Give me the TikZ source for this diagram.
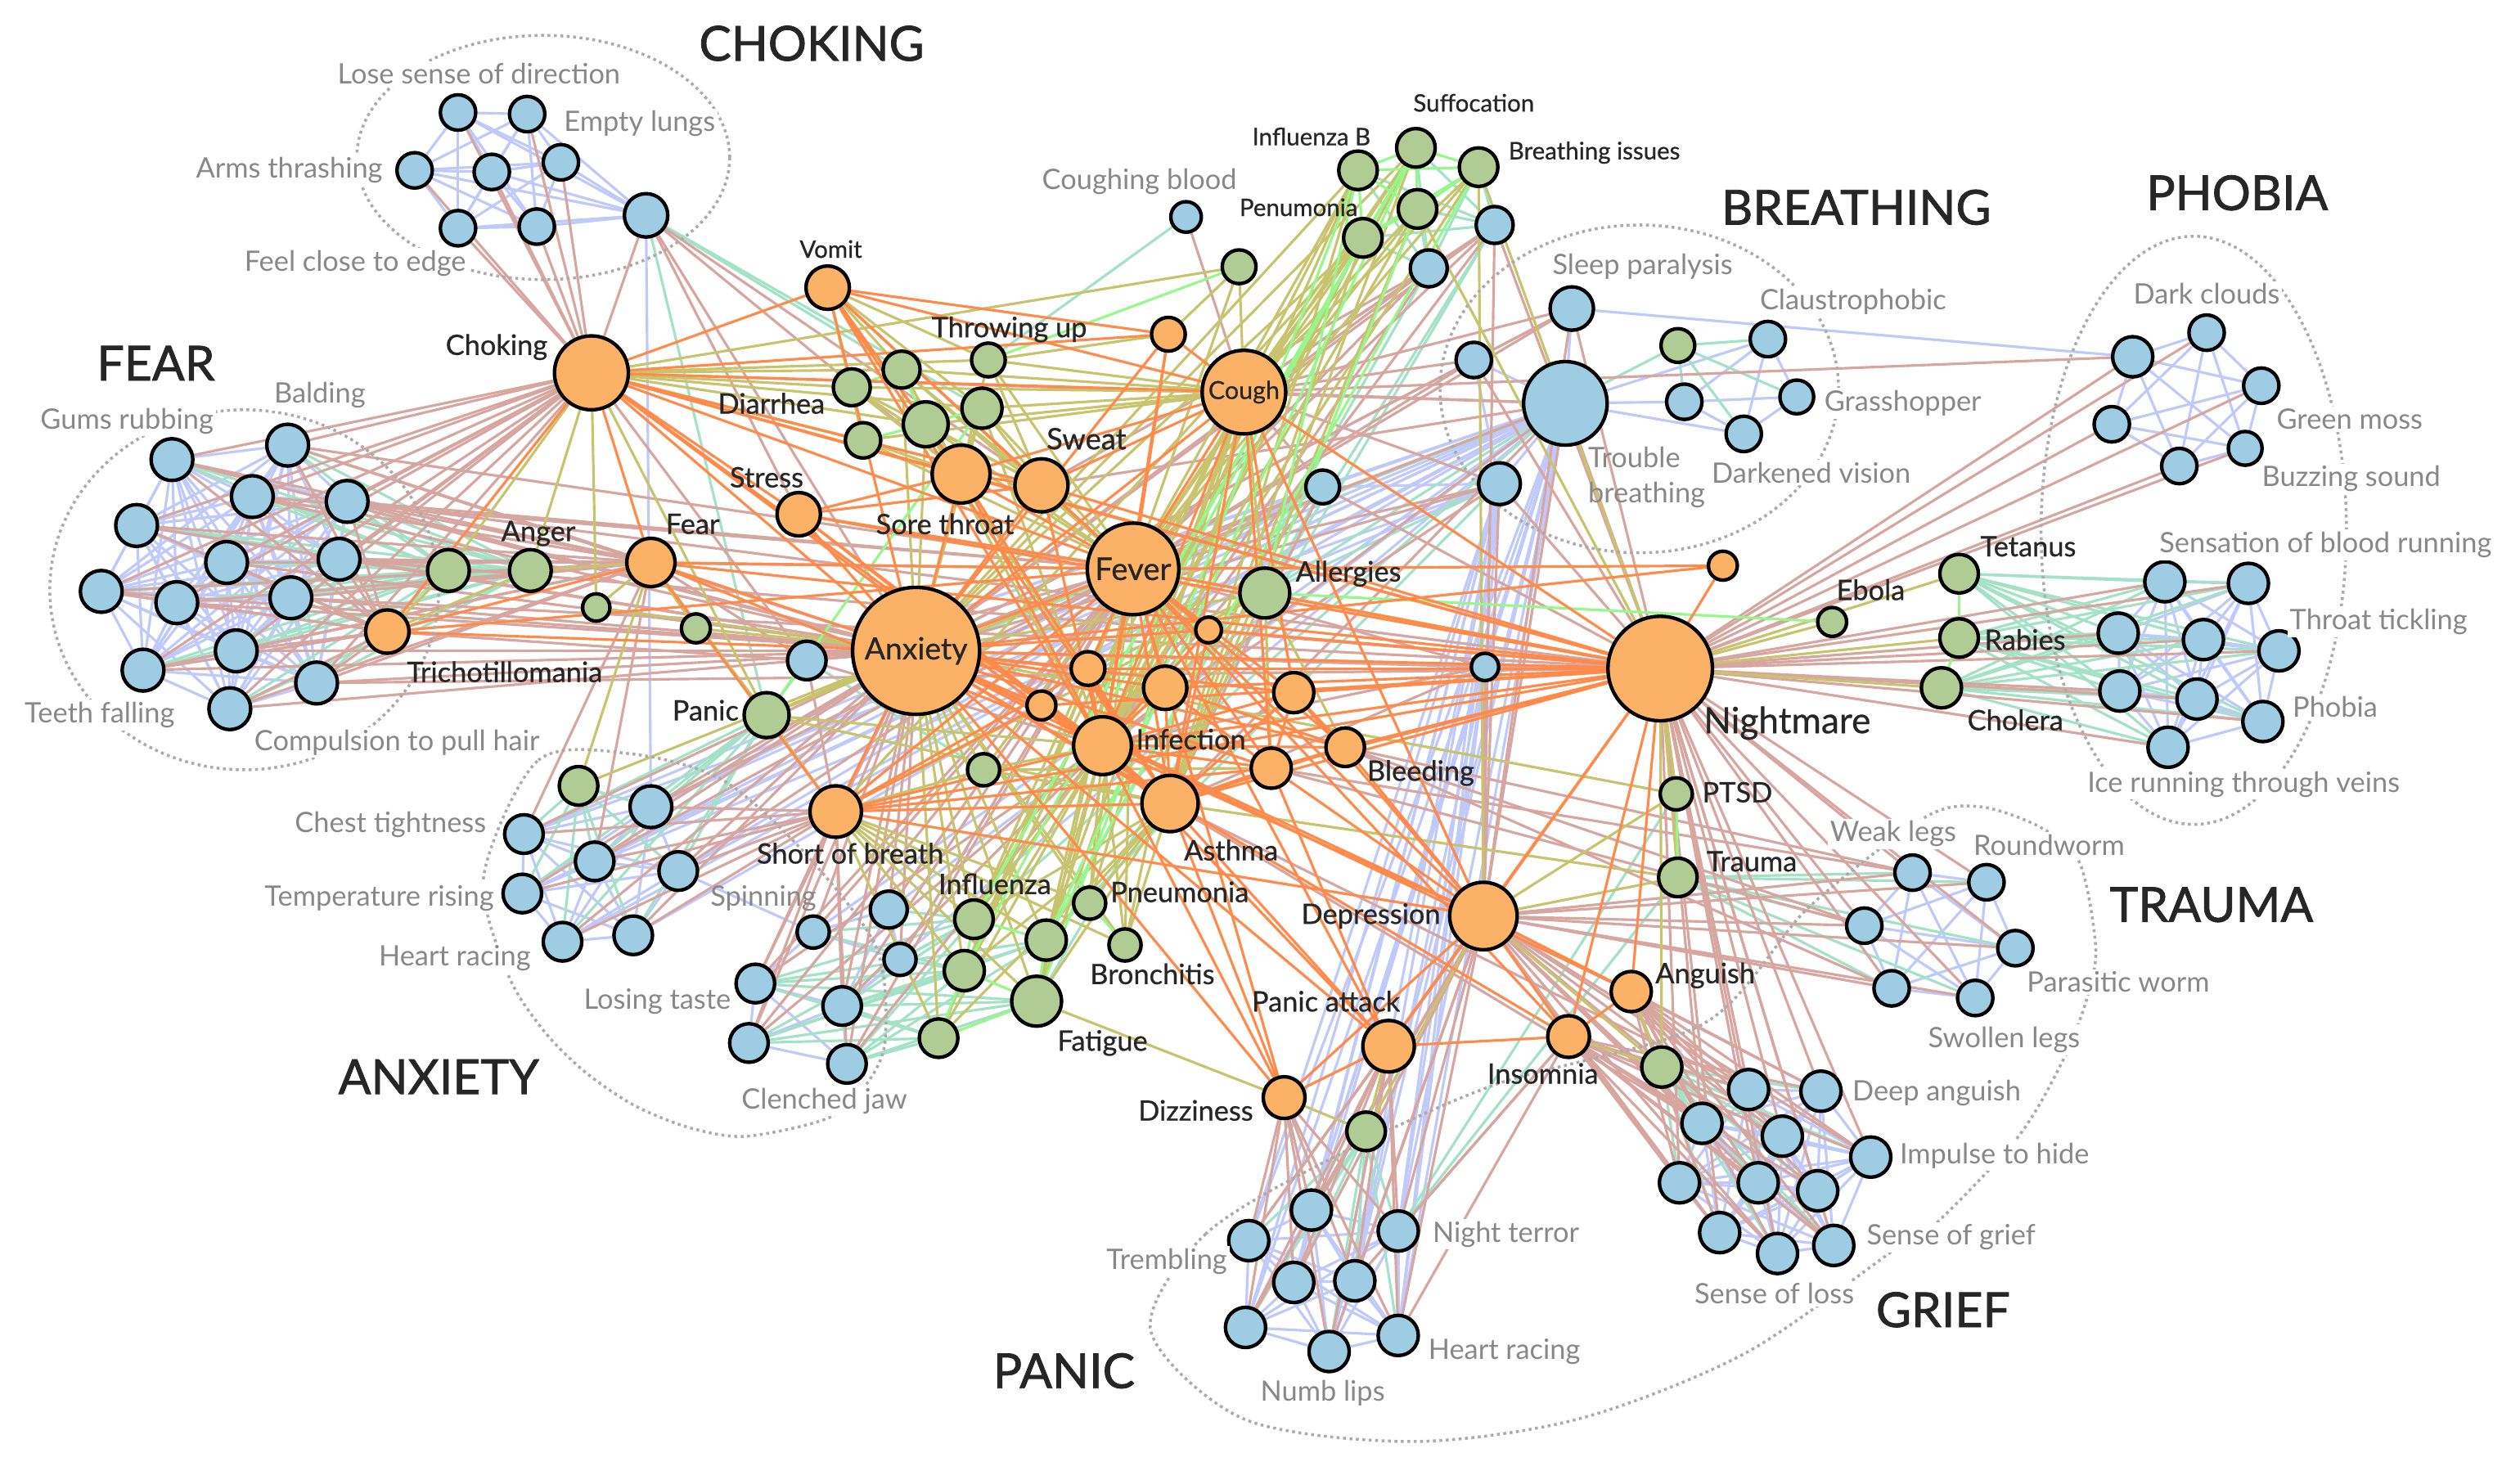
\documentclass[tikz,border=0pt]{standalone}
\usepackage{fontspec}
\setmainfont{Lato}
\newfontfamily\dkfont[FakeBold=0.6]{Lato}
\newfontfamily\ttfont[FakeBold=1.3]{Lato}
\definecolor{nB}{HTML}{9ECCE2}
\definecolor{nO}{HTML}{FBB166}
\definecolor{nG}{HTML}{B1CB95}
\definecolor{cLav}{HTML}{BFC9FA}
\definecolor{cPink}{HTML}{D7A6A1}
\definecolor{cMint}{HTML}{A3E2C7}
\definecolor{cOr}{HTML}{FF8A4A}
\definecolor{cOl}{HTML}{C8C46E}
\definecolor{cGr}{HTML}{96F78B}
\definecolor{cGray}{HTML}{888888}
\definecolor{cDark}{HTML}{262626}
\definecolor{cDot}{HTML}{ABABAB}
\pgfdeclarelayer{bgl}\pgfdeclarelayer{edl}\pgfdeclarelayer{oul}
\pgfsetlayers{bgl,edl,oul,main}
\newcommand\nd[5]{\node[#1,minimum size=#5pt] (#2) at (#3,#4) {};}
\newcommand\clq[3]{\foreach \ci in {1,...,#2}{\foreach \cj in {1,...,#2}{\ifnum\ci<\cj\relax\draw[#3] (#1\ci)--(#1\cj);\fi}}}
\newcommand\fanp[4]{\foreach \fk in {#3}{\draw[#4] (#1)--(#2\fk);}}
\newcommand\fanto[3]{\foreach \fx in {#2}{\draw[#3] (#1)--(\fx);}}
\newcommand\pairs[2]{\foreach \pa/\pb in {#2}{\draw[#1] (\pa)--(\pb);}}
\begin{document}
\begin{tikzpicture}[x=1pt,y=-1pt,
 nbase/.style={circle,draw=black,line width=2.2pt,inner sep=0pt},
 nblue/.style={nbase,fill=nB}, norng/.style={nbase,fill=nO}, ngrn/.style={nbase,fill=nG},
 elav/.style={draw=cLav,line width=1.6pt},
 epink/.style={draw=cPink,line width=1.6pt},
 emint/.style={draw=cMint,line width=1.6pt},
 eorng/.style={draw=cOr,line width=1.6pt},
 eolive/.style={draw=cOl,line width=1.6pt},
 egrn/.style={draw=cGr,line width=1.6pt},
 dotline/.style={draw=cDot,line width=1.8pt,dash pattern=on 1.8pt off 2.2pt},
 glab/.style={text=cGray,font=\fontsize{17.5}{21}\selectfont,fill=white,inner sep=1.5pt},
 glabn/.style={text=cGray,font=\fontsize{17.5}{22}\selectfont,inner sep=0pt},
 blab/.style={text=cDark,font={\dkfont\fontsize{17.5}{21}\selectfont},inner sep=0pt},
 slab/.style={text=cDark,font={\dkfont\fontsize{15}{18}\selectfont},inner sep=0pt},
 ttl/.style={text=cDark,font={\ttfont\fontsize{30}{34}\selectfont},inner sep=0pt}]
\begin{pgfonlayer}{bgl}
\fill[white] (0,0) rectangle (1568,915);
\end{pgfonlayer}
\useasboundingbox (0,0) rectangle (1568,915);
% ---------- orange nodes
\nd{norng}{oCh}{368}{232}{46}
\nd{norng}{oFear}{405}{350}{30}
\nd{norng}{oTri}{241}{393}{27}
\nd{norng}{oVom}{515}{179}{27}
\nd{norng}{oStr}{497}{320}{27}
\nd{norng}{oSore}{598}{295}{36}
\nd{norng}{oSw}{648}{302}{33}
\node[norng,minimum size=52pt,text=cDark,font={\dkfont\fontsize{15.5}{18}\selectfont}] (oCgh) at (774,244) {Cough};
\nd{norng}{oO1}{727}{208}{21}
\node[norng,minimum size=79pt,text=cDark,font={\dkfont\fontsize{19}{22}\selectfont}] (oAnx) at (570,405) {Anxiety};
\node[norng,minimum size=57pt,text=cDark,font={\dkfont\fontsize{19.5}{22}\selectfont}] (oFev) at (705,354) {Fever};
\nd{norng}{oO2}{752}{392}{16}
\nd{norng}{oO3}{677}{416}{21}
\nd{norng}{oO4}{648}{439}{18}
\nd{norng}{oO5}{725}{428}{27}
\nd{norng}{oInf}{686}{464}{36}
\nd{norng}{oSob}{520}{505}{32}
\nd{norng}{oAst}{728}{500}{35}
\nd{norng}{oO6}{791}{478}{25}
\nd{norng}{oBle}{837}{465}{24}
\nd{norng}{oO7}{805}{431}{25}
\nd{norng}{oO8}{1072}{352}{18}
\nd{norng}{oNm}{1033}{416}{65}
\nd{norng}{oDep}{923}{570}{42}
\nd{norng}{oAng}{1015}{617}{25}
\nd{norng}{oIns}{976}{645}{26}
\nd{norng}{oPa}{864}{651}{32}
\nd{norng}{oDiz}{799}{683}{26}
% ---------- green nodes
\nd{ngrn}{gA1}{279}{355}{26}
\nd{ngrn}{gAng}{330}{355}{26}
\nd{ngrn}{gS1}{371}{378}{17}
\nd{ngrn}{gS2}{433}{391}{18}
\nd{ngrn}{gPan}{477}{445}{28}
\nd{ngrn}{gT1}{612}{479}{20}
\nd{ngrn}{gThr}{615}{224}{21}
\nd{ngrn}{gD}{530}{241}{23}
\nd{ngrn}{gV1}{561}{230}{23}
\nd{ngrn}{gV2}{576}{264}{28}
\nd{ngrn}{gV3}{611}{254}{25}
\nd{ngrn}{gV4}{537}{274}{22}
\nd{ngrn}{gC1}{771}{166}{21}
\nd{ngrn}{gIB}{845}{106}{24}
\nd{ngrn}{gSuf}{881}{92}{24}
\nd{ngrn}{gBI}{920}{104}{24}
\nd{ngrn}{gB2}{882}{130}{24}
\nd{ngrn}{gPen}{848}{148}{24}
\nd{ngrn}{gAl}{787}{369}{31}
\nd{ngrn}{gBr1}{1044}{215}{21}
\nd{ngrn}{gTet}{1219}{357}{24}
\nd{ngrn}{gRab}{1219}{397}{24}
\nd{ngrn}{gCho}{1208}{428}{25}
\nd{ngrn}{gEb}{1140}{387}{18}
\nd{ngrn}{gPT}{1043}{494}{20}
\nd{ngrn}{gTr}{1044}{546}{24}
\nd{ngrn}{gG1}{1034}{664}{25}
\nd{ngrn}{gP1}{850}{704}{24}
\nd{ngrn}{gAx1}{360}{489}{24}
\nd{ngrn}{gInf}{606}{572}{24}
\nd{ngrn}{gPn}{678}{562}{20}
\nd{ngrn}{gBro}{700}{588}{20}
\nd{ngrn}{gX1}{651}{585}{25}
\nd{ngrn}{gX2}{600}{604}{25}
\nd{ngrn}{gFat}{645}{623}{31}
\nd{ngrn}{gX3}{584}{646}{24}
% ---------- blue nodes
\nd{nblue}{bC1}{285}{70}{22}
\nd{nblue}{bC2}{328}{71}{22}
\nd{nblue}{bC3}{258}{106}{22}
\nd{nblue}{bC4}{306}{107}{22}
\nd{nblue}{bC5}{349}{101}{22}
\nd{nblue}{bC6}{285}{142}{22}
\nd{nblue}{bC7}{334}{141}{22}
\nd{nblue}{bC8}{402}{134}{27}
\foreach \nn/\xx/\yy in {1/107/286,2/179/277,3/85/327,4/157/309,5/216/312,6/141/350,7/211/348,8/63/368,9/110/375,10/181/372,11/147/405,12/89/417,13/197/425,14/143/441}{\nd{nblue}{bF\nn}{\xx}{\yy}{26}}
\nd{nblue}{bA1}{405}{502}{26}
\foreach \nn/\xx/\yy in {2/326/519,3/370/536,4/422/542,5/325/556,6/394/582,7/350/586}{\nd{nblue}{bA\nn}{\xx}{\yy}{24}}
\nd{nblue}{bL1}{470}{612}{24}
\nd{nblue}{bL2}{524}{626}{24}
\nd{nblue}{bL3}{466}{649}{24}
\nd{nblue}{bL4}{527}{662}{24}
\nd{nblue}{bS1}{506}{580}{20}
\nd{nblue}{bS2}{553}{566}{23}
\nd{nblue}{bS3}{560}{597}{20}
\nd{nblue}{bM1}{502}{411}{24}
\nd{nblue}{bCB}{738}{135}{19}
\nd{nblue}{bB1}{930}{140}{23}
\nd{nblue}{bB2}{889}{167}{23}
\nd{nblue}{bSP}{978}{192}{27}
\nd{nblue}{bB3}{917}{224}{22}
\nd{nblue}{bTB}{974}{251}{52}
\nd{nblue}{bCl}{1100}{211}{22}
\nd{nblue}{bB4}{1048}{250}{22}
\nd{nblue}{bGr}{1118}{247}{21}
\nd{nblue}{bDV}{1085}{270}{22}
\nd{nblue}{bB5}{823}{303}{21}
\nd{nblue}{bB6}{933}{301}{26}
\nd{nblue}{bB7}{924}{415}{17}
\nd{nblue}{bP1}{1327}{222}{25}
\nd{nblue}{bP2}{1373}{207}{22}
\nd{nblue}{bP3}{1407}{240}{22}
\nd{nblue}{bP4}{1314}{264}{22}
\nd{nblue}{bP5}{1397}{279}{21}
\nd{nblue}{bP6}{1356}{290}{22}
\foreach \nn/\xx/\yy in {1/1347/362,2/1399/363,3/1318/394,4/1371/398,5/1418/405,6/1319/430,7/1367/435,8/1408/449,9/1349/465}{\nd{nblue}{bR\nn}{\xx}{\yy}{25}}
\foreach \nn/\xx/\yy in {1/1190/543,2/1236/549,3/1160/576,4/1254/590,5/1177/615,6/1229/621}{\nd{nblue}{bT\nn}{\xx}{\yy}{22}}
\foreach \nn/\xx/\yy in {1/1088/678,2/1133/679,3/1059/699,4/1109/707,5/1164/720,6/1045/736,7/1094/736,8/1131/741,9/1070/767,10/1106/780,11/1141/775}{\nd{nblue}{bG\nn}{\xx}{\yy}{25}}
\foreach \nn/\xx/\yy in {1/816/753,2/777/772,3/870/766,4/805/798,5/843/797,6/775/826,7/827/841,8/870/831}{\nd{nblue}{bN\nn}{\xx}{\yy}{25}}
% ---------- edges
\begin{pgfonlayer}{edl}
% lavender
\clq{bC}{8}{elav}\clq{bF}{14}{elav}\clq{bA}{7}{elav}\clq{bP}{6}{elav}
\clq{bR}{9}{elav}\clq{bT}{6}{elav}\clq{bG}{11}{elav}\clq{bN}{8}{elav}
\pairs{elav}{bL1/bL2,bL1/bL3,bL1/bL4,bL2/bL3,bL2/bL4,bL3/bL4,bS1/bS2,bS1/bS3,bS2/bS3,bS2/bL2,bS3/bL2,bS1/bL1,bA4/bS1,bC8/bA1,bP1/bSP,bTB/bSP,bTB/bCl,bTB/bB4,bTB/bDV,bCl/bB4,bCl/bGr,bCl/bDV,bB4/bGr,bB4/bDV,bGr/bDV,bB3/bSP,bB3/bB6,bTB/bB6,bTB/bB5,bB5/bB6,bB1/bB2,bTB/bB7,bB6/bB7,bTB/bM1,bB5/bM1,bTB/bB3}
\fanp{bTB}{bN}{1,...,8}{elav}
\fanp{bB6}{bN}{1,...,8}{elav}
\fanp{bB7}{bN}{1,3,5,8}{elav}
\fanp{bTB}{bA}{1,...,7}{elav}
\fanp{bB5}{bA}{1,3,4}{elav}
\fanp{bB6}{bA}{2,5}{elav}
\fanp{bTB}{bS}{1,2}{elav}
\fanp{bTB}{bL}{2}{elav}
% mint
\fanp{gA1}{bF}{1,...,14}{emint}
\fanp{gAng}{bF}{1,...,14}{emint}
\fanto{bC8}{gV1,gV3,gPan}{emint}
\fanp{gAx1}{bA}{1,...,7}{emint}
\fanp{gPan}{bA}{1,...,7}{emint}
\fanp{gInf}{bL}{1,...,4}{emint}
\fanp{gX1}{bL}{1,...,4}{emint}
\fanp{gX2}{bL}{1,...,4}{emint}
\fanp{gX3}{bL}{1,...,4}{emint}
\fanp{gFat}{bL}{1,...,4}{emint}
\fanp{gInf}{bS}{1,2,3}{emint}
\fanp{gX2}{bS}{1,3}{emint}
\fanto{bM1}{gPan,gT1}{emint}
\fanto{bB1}{gIB,gSuf,gBI,gB2,gPen,gAl,gFat}{emint}
\fanto{bB2}{gIB,gSuf,gBI,gB2,gPen,gX1}{emint}
\fanto{bCB}{gThr}{emint}
\fanto{bTB}{gBr1,gAl,gPan,gInf}{emint}
\fanto{gBr1}{bCl,bB4,bGr,bDV}{emint}
\fanp{gTet}{bR}{1,...,9}{emint}
\fanp{gRab}{bR}{1,...,9}{emint}
\fanp{gCho}{bR}{1,...,9}{emint}
\fanp{gTr}{bT}{1,...,6}{emint}
\fanp{gG1}{bG}{1,...,11}{emint}
\fanp{gP1}{bN}{1,...,8}{emint}
\fanto{bN3}{gTr,gPT}{emint}
\fanto{bB6}{gAl,gX1}{emint}
\fanto{bB5}{gAl}{emint}
% pink
\fanp{oCh}{bC}{1,...,8}{epink}
\fanto{bC8}{oStr,oSore,oSw,oAnx}{epink}
\fanp{oCh}{bF}{1,...,14}{epink}
\fanp{oFear}{bF}{1,...,14}{epink}
\fanp{oTri}{bF}{1,...,14}{epink}
\fanp{oAnx}{bF}{1,...,14}{epink}
\fanp{oNm}{bF}{5,7,10,13}{epink}
\fanp{oFev}{bF}{2,4,5,7}{epink}
\fanp{oAnx}{bA}{1,...,7}{epink}
\fanp{oSob}{bA}{1,...,7}{epink}
\fanp{oFev}{bA}{1,3,4}{epink}
\fanp{oFear}{bA}{2,3}{epink}
\fanp{oAnx}{bL}{1,...,4}{epink}
\fanp{oSob}{bL}{1,...,4}{epink}
\fanp{oFev}{bL}{1,...,4}{epink}
\fanp{oInf}{bL}{1,...,4}{epink}
\fanp{oAnx}{bS}{1,2,3}{epink}
\fanp{oFev}{bS}{1,2,3}{epink}
\fanto{bM1}{oAnx,oFear,oCh,oTri,oFev,oSob,oInf}{epink}
\fanto{bCB}{oCgh}{epink}
\fanto{bB1}{oCgh,oFev,oAnx,oNm,oDep,oInf}{epink}
\fanto{bB2}{oCgh,oFev,oAnx,oSw,oInf}{epink}
\fanto{bSP}{oNm,oAnx,oFev,oCgh,oDep}{epink}
\fanto{bTB}{oCgh,oFev,oAnx,oNm,oDep,oSw,oCh,oInf,oAst}{epink}
\fanto{bB3}{oAnx,oFev,oCgh,oNm}{epink}
\fanto{bB5}{oNm,oCgh,oAnx,oFev,oInf,oAst}{epink}
\fanto{bB6}{oNm,oAnx,oFev,oCgh,oInf,oDep}{epink}
\fanto{bB7}{oNm,oAnx,oFev,oInf,oAst,oDep}{epink}
\fanp{oNm}{bP}{1,...,6}{epink}
\fanto{bP1}{oCgh}{epink}
\fanp{oNm}{bR}{1,...,9}{epink}
\fanp{oNm}{bT}{1,...,6}{epink}
\fanp{oDep}{bT}{1,...,6}{epink}
\fanp{oBle}{bT}{1,3,5}{epink}
\fanp{oO6}{bT}{1,3}{epink}
\fanp{oDep}{bG}{1,...,11}{epink}
\fanp{oIns}{bG}{1,...,11}{epink}
\fanp{oAng}{bG}{1,...,11}{epink}
\fanp{oNm}{bG}{1,...,11}{epink}
\fanp{oAst}{bG}{1,3}{epink}
\fanp{oDiz}{bN}{1,...,8}{epink}
\fanp{oPa}{bN}{1,...,8}{epink}
\fanp{oDep}{bN}{1,...,8}{epink}
\fanp{oIns}{bN}{3,5,8}{epink}
% olive
\foreach \vg in {gV1,gV2,gV3,gV4,gD,gThr}{\foreach \vo in {oCh,oVom,oSore,oSw,oCgh,oFev}{\draw[eolive] (\vg)--(\vo);}}
\fanto{gC1}{oCh,oCgh,oO1,oFev}{eolive}
\fanto{gThr}{oO1}{eolive}
\foreach \vg in {gIB,gSuf,gBI,gB2,gPen}{\foreach \vo in {oCgh,oFev}{\draw[eolive] (\vg)--(\vo);}}
\pairs{eolive}{gIB/oAnx,gIB/oInf,gIB/oAst,gSuf/oAnx,gSuf/oAst,gSuf/oInf,gBI/oNm,gBI/oDep,gBI/oInf,gPen/oAnx,gPen/oSob,gPen/oInf,gPen/oAst,gB2/oInf,gB2/oNm,gB2/oAst}
\fanto{gAl}{oFev,oAnx,oCgh,oNm,oInf,oAst,oSob,oO5,oO3,oO6,oBle}{eolive}
\pairs{eolive}{gAng/oCh,gAng/oFear,gAng/oTri,gA1/oTri,gA1/oCh,gS1/oCh,gS1/oFear,gS1/oAnx,gS2/oAnx,gS2/oFear,gAx1/oAnx,gAx1/oFear,gV1/oAnx,gV2/oAnx,gV3/oAnx,gV2/oInf,gV3/oInf,gV2/oAst}
\fanto{gPan}{oAnx,oFear,oSob,oFev,oCh,oInf,oAst}{eolive}
\fanto{gT1}{oAnx,oInf,oSob,oFev,oAst,oO6}{eolive}
\foreach \vg in {gInf,gX1,gX2,gX3,gFat,gPn,gBro}{\foreach \vo in {oAnx,oFev,oInf,oAst,oSob}{\draw[eolive] (\vg)--(\vo);}}
\pairs{eolive}{gFat/oDiz,gFat/oCgh,gPn/oCgh,gBro/oCgh,gInf/oCgh,gX1/oCgh,gX2/oCgh}
\fanto{oNm}{gTet,gRab,gCho,gEb,gPT,gTr,gG1}{eolive}
\pairs{eolive}{gPT/oDep,gPT/oAnx,gTr/oDep,gTr/oAst,gG1/oAng,gG1/oIns,gG1/oDep,gP1/oPa,gP1/oDiz,gP1/oDep}
% bright green
\pairs{egrn}{gIB/gSuf,gIB/gBI,gIB/gB2,gIB/gPen,gSuf/gBI,gSuf/gB2,gSuf/gPen,gBI/gB2,gBI/gPen,gB2/gPen,gSuf/gInf,gSuf/gX1,gIB/gFat,gIB/gAl,gPen/gX2,gB2/gAl,gBI/gX1,gPen/gInf,gTet/gRab,gRab/gCho,gAl/gEb,gV1/gV2,gV2/gV3,gV4/gV2,gThr/gC1,gV1/gD,gV3/gPan,gPT/gTr,gInf/gX1,gX1/gFat,gX2/gFat,gX3/gX2,gPn/gBro,gInf/gX2,gX3/gFat}
% orange
\pairs{eorng}{oCh/oFear,oCh/oTri,oCh/oVom,oCh/oStr,oCh/oSore,oCh/oSw,oCh/oCgh,oCh/oAnx,oCh/oFev,oCh/oO1,oCh/oInf,oCh/oNm,oCh/oAst,
oFear/oTri,oFear/oAnx,oFear/oFev,oFear/oSob,oFear/oNm,oFear/oInf,oTri/oAnx,oTri/oFev,
oVom/oSore,oVom/oSw,oVom/oCgh,oVom/oAnx,oVom/oFev,oVom/oInf,oVom/oAst,oVom/oO1,
oStr/oAnx,oStr/oSore,oStr/oFev,oStr/oInf,oStr/oAst,oStr/oSw,oStr/oNm,
oSore/oSw,oSore/oFev,oSore/oAnx,oSore/oCgh,oSore/oInf,oSore/oAst,oSore/oNm,
oSw/oFev,oSw/oAnx,oSw/oCgh,oSw/oInf,oSw/oNm,
oCgh/oO1,oCgh/oFev,oCgh/oAnx,oCgh/oInf,oCgh/oAst,oCgh/oNm,oCgh/oDep,oCgh/oO7,oCgh/oO6,oO1/oInf,oO1/oAnx,oO1/oFev,
oAnx/oFev,oAnx/oO2,oAnx/oO3,oAnx/oO4,oAnx/oO5,oAnx/oInf,oAnx/oSob,oAnx/oAst,oAnx/oO6,oAnx/oBle,oAnx/oO7,oAnx/oNm,oAnx/oDep,oAnx/oPa,oAnx/oDiz,oAnx/oIns,oAnx/oO8,oAnx/oAng,
oFev/oO2,oFev/oO3,oFev/oO5,oFev/oInf,oFev/oAst,oFev/oSob,oFev/oO6,oFev/oBle,oFev/oO7,oFev/oNm,oFev/oDep,oFev/oDiz,oFev/oPa,oFev/oIns,
oInf/oSob,oInf/oAst,oInf/oO6,oInf/oBle,oInf/oNm,oInf/oDep,oInf/oO4,oInf/oO7,oInf/oDiz,oInf/oPa,
oSob/oAst,oSob/oO4,oSob/oO3,oSob/oNm,oSob/oDep,oSob/oO6,
oAst/oO6,oAst/oBle,oAst/oDiz,oAst/oPa,oAst/oNm,oAst/oO7,
oO2/oNm,oO2/oInf,oO2/oAst,oO3/oInf,oO3/oAst,oO3/oNm,oO4/oAst,oO4/oNm,oO5/oInf,oO5/oAst,oO5/oNm,oO5/oO6,oO5/oBle,
oO6/oNm,oO6/oBle,oO6/oDep,oO6/oPa,oO6/oO7,oBle/oNm,oBle/oDep,oBle/oO7,oO7/oNm,oO7/oDep,oO8/oNm,oO8/oFev,
oNm/oDep,oNm/oIns,oNm/oAng,oNm/oPa,oDep/oPa,oDep/oDiz,oDep/oIns,oDep/oAng,oIns/oAng,oIns/oPa,oPa/oDiz}
\end{pgfonlayer}
% ---------- dotted outlines
\begin{pgfonlayer}{oul}
\draw[dotline] (338,98) ellipse [x radius=116pt, y radius=76pt];
\draw[dotline] (152,367) ellipse [x radius=121pt, y radius=112pt];
\draw[dotline] (1020,242) ellipse [x radius=124pt, y radius=102pt];
\draw[dotline] (1365,330) ellipse [x radius=95pt, y radius=183pt];
\draw[dotline] plot[smooth cycle] coordinates {(301,545) (335,473) (392,469) (449,485) (500,530) (545,589) (551,645) (541,672) (517,695) (465,707) (430,702) (395,688) (364,667) (338,641) (316,606)};
\draw[dotline] plot[smooth cycle] coordinates {(716,828) (750,768) (830,720) (930,675) (1060,637) (1125,565) (1197,509) (1232,502) (1270,515) (1294,537) (1304,590) (1298,623) (1283,661) (1256,707) (1206,760) (1181,776) (1086,842) (982,883) (878,897) (774,883)};
\end{pgfonlayer}
% ---------- gray labels
\node[glab] (lLose) at (298,46) {Lose sense of direction};
\node[glab] (lEmpty) at (398,77) {Empty lungs};
\node[glab] (lArms) at (180,106) {Arms thrashing};
\node[glab] (lFeel) at (221,164) {Feel close to edge};
\node[glab] (lGums) at (79,262) {Gums rubbing};
\node[glab] (lBald) at (199,246) {Balding};
\node[glab] (lTeeth) at (62,445) {Teeth falling};
\node[glab] (lComp) at (247,462) {Compulsion to pull hair};
\node[glab] (lChest) at (243,513) {Chest tightness};
\node[glab] (lTemp) at (236,559) {Temperature rising};
\node[glab] (lHeartA) at (283,596) {Heart racing};
\node[glabn] (lSpin) at (475,559) {Spinning};
\node[glab] (lLosing) at (409,623) {Losing taste};
\node[glab] (lClench) at (513,685) {Clenched jaw};
\node[glab] (lCB) at (709,113) {Coughing blood};
\node[glab] (lSP) at (1022,166) {Sleep paralysis};
\node[glab] (lClaus) at (1153,188) {Claustrophobic};
\node[glab] (lGrass) at (1184,251) {Grasshopper};
\node[glab] (lDark) at (1127,294) {Darkened vision};
\node[glabn,align=left,anchor=west] (lTrouble) at (988,297) {Trouble\\breathing};
\node[glab] (lDC) at (1373,183) {Dark clouds};
\node[glab] (lGM) at (1462,261) {Green moss};
\node[glab] (lBuzz) at (1463,298) {Buzzing sound};
\node[glab] (lSens) at (1447,339) {Sensation of blood running};
\node[glab] (lThroat) at (1480,387) {Throat tickling};
\node[glab] (lPhob) at (1453,440) {Phobia};
\node[glab] (lIce) at (1396,488) {Ice running through veins};
\node[glab] (lWeak) at (1178,519) {Weak legs};
\node[glab] (lRound) at (1275,526) {Roundworm};
\node[glab] (lPara) at (1318,611) {Parasitic worm};
\node[glab] (lSwol) at (1247,647) {Swollen legs};
\node[glab] (lDeep) at (1205,680) {Deep anguish};
\node[glab] (lImp) at (1241,719) {Impulse to hide};
\node[glab] (lSGrief) at (1214,770) {Sense of grief};
\node[glab] (lLoss) at (1104,805) {Sense of loss};
\node[glab] (lNight) at (937,768) {Night terror};
\node[glab] (lHeartP) at (936,841) {Heart racing};
\node[glab] (lNumb) at (823,867) {Numb lips};
\node[glab] (lTremb) at (726,785) {Trembling};
% ---------- dark labels
\node[blab] (tCh) at (309,216) {Choking};
\node[blab] (tFear) at (431,326) {Fear};
\node[blab] (tAng) at (335,332) {Anger};
\node[blab] (tTri) at (314,418) {Trichotillomania};
\node[blab] (tPan) at (439,442) {Panic};
\node[slab] (tVom) at (517,155) {Vomit};
\node[blab] (tThr) at (628,205) {Throwing up};
\node[blab] (tDia) at (480,251) {Diarrhea};
\node[blab] (tStr) at (477,297) {Stress};
\node[blab] (tSore) at (588,326) {Sore throat};
\node[blab,font={\dkfont\fontsize{18.5}{21}\selectfont}] (tSw) at (676,273) {Sweat};
\node[slab] (tIB) at (816,85) {Influenza B};
\node[slab] (tSuf) at (917,64) {Suffocation};
\node[slab] (tBI) at (992,95) {Breathing issues};
\node[slab] (tPen) at (808,129) {Penumonia};
\node[blab] (tAl) at (839,357) {Allergies};
\node[blab] (tInf) at (741,460) {Infection};
\node[blab] (tSob) at (529,531) {Short of breath};
\node[blab] (tAst) at (766,529) {Asthma};
\node[blab] (tBle) at (884,481) {Bleeding};
\node[blab] (tFlu) at (619,550) {Influenza};
\node[blab] (tPn) at (734,555) {Pneumonia};
\node[blab] (tBro) at (717,606) {Bronchitis};
\node[blab] (tFat) at (686,649) {Fatigue};
\node[blab] (tDiz) at (744,691) {Dizziness};
\node[blab] (tPa) at (825,623) {Panic attack};
\node[blab] (tDep) at (853,570) {Depression};
\node[blab] (tIns) at (960,668) {Insomnia};
\node[blab] (tAngu) at (1061,607) {Anguish};
\node[blab] (tTr) at (1090,536) {Trauma};
\node[blab] (tPT) at (1081,493) {PTSD};
\node[blab,font={\dkfont\fontsize{22.5}{26}\selectfont}] (tNm) at (1112,450) {Nightmare};
\node[blab] (tEb) at (1164,367) {Ebola};
\node[blab] (tTet) at (1262,340) {Tetanus};
\node[blab] (tRab) at (1260,398) {Rabies};
\node[blab] (tCho) at (1254,448) {Cholera};
% ---------- titles
\node[ttl] (hCh) at (505,27) {CHOKING};
\node[ttl] (hFear) at (97,226) {FEAR};
\node[ttl] (hBr) at (1155,129) {BREATHING};
\node[ttl] (hPh) at (1392,120) {PHOBIA};
\node[ttl] (hAnx) at (273,670) {ANXIETY};
\node[ttl] (hTr) at (1376,563) {TRAUMA};
\node[ttl] (hPa) at (662,853) {PANIC};
\node[ttl] (hGr) at (1209,815) {GRIEF};
\end{tikzpicture}
\end{document}
